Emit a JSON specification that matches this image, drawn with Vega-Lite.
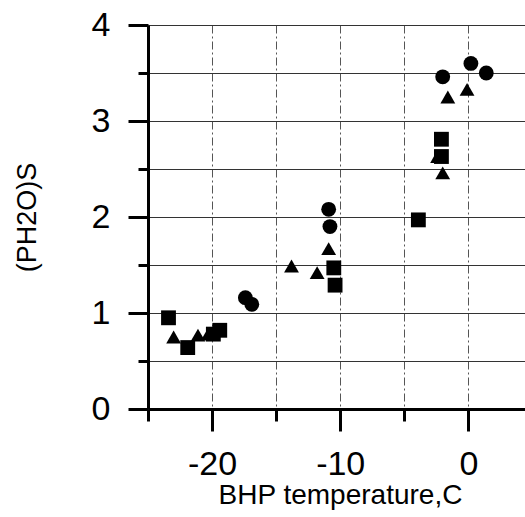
{
  "$schema": "https://vega.github.io/schema/vega-lite/v6.json",
  "autosize": "none",
  "padding": {"left": 148, "top": 25, "right": 0, "bottom": 108},
  "width": 378,
  "height": 384,
  "background": "white",
  "config": {
    "view": {"stroke": null},
    "font": "Liberation Sans"
  },
  "data": {
    "values": [
      {"t": -17.4, "p": 1.16, "s": "c"},
      {"t": -16.9, "p": 1.09, "s": "c"},
      {"t": -10.9, "p": 2.08, "s": "c"},
      {"t": -10.8, "p": 1.90, "s": "c"},
      {"t": -2.0, "p": 3.46, "s": "c"},
      {"t": 0.2, "p": 3.60, "s": "c"},
      {"t": 1.4, "p": 3.50, "s": "c"},
      {"t": -23.0, "p": 0.75, "s": "t"},
      {"t": -21.1, "p": 0.77, "s": "t"},
      {"t": -20.3, "p": 0.78, "s": "t"},
      {"t": -13.8, "p": 1.49, "s": "t"},
      {"t": -11.8, "p": 1.42, "s": "t"},
      {"t": -10.9, "p": 1.67, "s": "t"},
      {"t": -2.4, "p": 2.63, "s": "t"},
      {"t": -2.0, "p": 2.46, "s": "t"},
      {"t": -1.6, "p": 3.25, "s": "t"},
      {"t": -0.1, "p": 3.33, "s": "t"},
      {"t": -23.4, "p": 0.95, "s": "s"},
      {"t": -21.9, "p": 0.64, "s": "s"},
      {"t": -19.9, "p": 0.78, "s": "s"},
      {"t": -19.4, "p": 0.82, "s": "s"},
      {"t": -10.5, "p": 1.47, "s": "s"},
      {"t": -10.4, "p": 1.29, "s": "s"},
      {"t": -3.9, "p": 1.97, "s": "s"},
      {"t": -2.1, "p": 2.81, "s": "s"},
      {"t": -2.1, "p": 2.63, "s": "s"}
    ]
  },
  "mark": {"type": "point", "filled": true, "opacity": 1, "color": "black"},
  "encoding": {
    "x": {
      "field": "t",
      "type": "quantitative",
      "scale": {"domain": [-25, 4.5], "nice": false, "zero": false},
      "axis": {
        "title": "BHP temperature,C",
        "titleFontSize": 28,
        "titleFontWeight": "normal",
        "titleColor": "black",
        "titleX": 192,
        "titlePadding": 0,
        "values": [-25, -20, -15, -10, -5, 0],
        "labelExpr": "datum.value % 10 === 0 ? (datum.value < 0 ? '-' + format(-datum.value, 'd') : format(datum.value, 'd')) : ''",
        "labelFontSize": 34,
        "labelColor": "black",
        "labelPadding": 16,
        "labelFlush": false,
        "labelOverlap": false,
        "tickSize": {"condition": {"test": "datum.value % 10 === 0", "value": 22}, "value": 12},
        "tickWidth": 3,
        "tickColor": "black",
        "domainColor": "black",
        "domainWidth": 3,
        "grid": true,
        "gridColor": "#555",
        "gridWidth": 1,
        "gridDash": [8, 3, 2, 3]
      }
    },
    "y": {
      "field": "p",
      "type": "quantitative",
      "scale": {"domain": [0, 4], "nice": false},
      "axis": {
        "title": "(PH2O)S",
        "titleFontSize": 27,
        "titleFontWeight": "normal",
        "titleColor": "black",
        "titlePadding": 50,
        "values": [0, 0.5, 1, 1.5, 2, 2.5, 3, 3.5, 4],
        "labelExpr": "datum.value % 1 === 0 ? format(datum.value, 'd') : ''",
        "labelFontSize": 34,
        "labelColor": "black",
        "labelPadding": 18,
        "labelFlush": false,
        "labelOverlap": false,
        "tickSize": {"condition": {"test": "datum.value % 1 === 0", "value": 20}, "value": 10},
        "tickWidth": 3,
        "tickColor": "black",
        "domainColor": "black",
        "domainWidth": 3,
        "grid": true,
        "gridColor": "#333",
        "gridWidth": 1
      }
    },
    "shape": {
      "field": "s",
      "type": "nominal",
      "scale": {"domain": ["c", "t", "s"], "range": ["circle", "triangle-up", "square"]},
      "legend": null
    },
    "size": {"value": 220}
  }
}
